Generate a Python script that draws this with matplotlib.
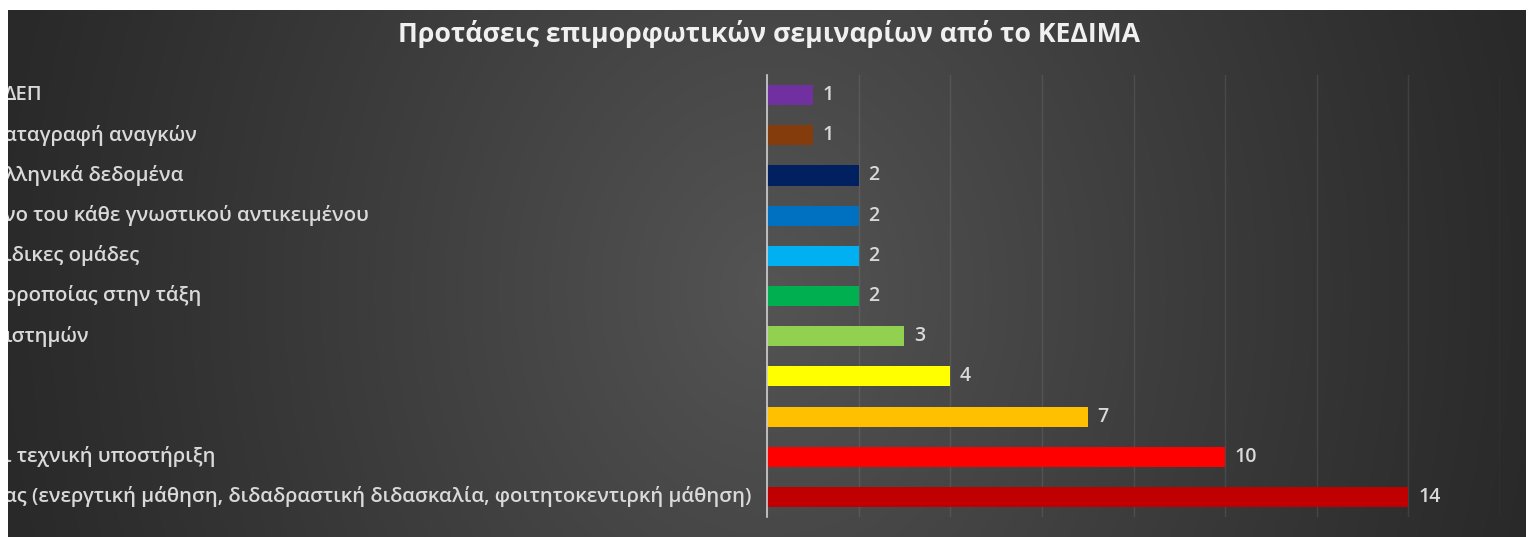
import numpy as np
import matplotlib
matplotlib.use("Agg")
import matplotlib.pyplot as plt
from matplotlib.patches import Rectangle
from matplotlib.transforms import blended_transform_factory

# ---- data -------------------------------------------------------------
title = "Προτάσεις επιμορφωτικών σεμιναρίων από το ΚΕΔΙΜΑ"

categories = [
    "ας (ενεργτική μάθηση, διδαδραστική διδασκαλία, φοιτητοκεντιρκή μάθηση)",
    "ι τεχνική υποστήριξη",
    "",
    "",
    "ιστημών",
    "οροποίας στην τάξη",
    "ιδικες ομάδες",
    "νο του κάθε γνωστικού αντικειμένου",
    "λληνικά δεδομένα",
    "αταγραφή αναγκών",
    "ΔΕΠ",
]
values = [14, 10, 7, 4, 3, 2, 2, 2, 2, 1, 1]
bar_colors = ["#C00000", "#FF0000", "#FFC000", "#FFFF00", "#92D050",
              "#00B050", "#00B0F0", "#0070C0", "#002060", "#843C0C", "#7030A0"]
x_ticks = list(range(0, 17, 2))

# ---- figure -----------------------------------------------------------
W, H = 1532, 537
plt.rcParams["font.family"] = ["Open Sans", "DejaVu Sans"]
fig = plt.figure(figsize=(W / 100, H / 100), dpi=100)

# dark backdrop with a soft lighter centre
bg = fig.add_axes([0, 0, 1, 1], zorder=-5)
yy, xx = np.mgrid[0:H, 0:W]
r = np.sqrt(((xx - 770) / 790.0) ** 2 + ((yy - 290) / 950.0) ** 2)
g = np.clip(1 - r, 0, 1) ** 1.1
lev = (0x29 + (0x54 - 0x29) * g) / 255.0
img = np.dstack([lev, lev, lev])
bg.imshow(img, extent=[0, W, H, 0], aspect="auto", interpolation="bilinear")
bg.set_axis_off()

# plot area
x0, x1 = 767, 1500
y0, y1 = 75, 517
ax = fig.add_axes([x0 / W, 1 - y1 / H, (x1 - x0) / W, (y1 - y0) / H])
ax.set_facecolor("none")

ypos = np.arange(len(values))
ax.barh(ypos, values, height=0.5, color=bar_colors, zorder=3)
ax.set_xlim(0, 16)
ax.set_ylim(-0.5, len(values) - 0.5)
ax.set_xticks(x_ticks)
ax.grid(axis="x", color="white", alpha=0.09, linewidth=1.0, zorder=0)
ax.tick_params(length=0, labelbottom=False, labelleft=False)
for s in ("top", "right", "bottom"):
    ax.spines[s].set_visible(False)
ax.spines["left"].set_color("#d0d0d0")
ax.spines["left"].set_linewidth(1.2)
ax.spines["left"].set_zorder(4)

text_col = "#d9d9d9"
tr = blended_transform_factory(fig.transFigure, ax.transData)
for y, lab in zip(ypos, categories):
    ax.text(4 / W, y, lab, transform=tr, ha="left", va="center",
            fontsize=14.6, fontweight="semibold", color=text_col, clip_on=False)

for y, v in zip(ypos, values):
    ax.annotate(str(v), (v, y), xytext=(7, 0), textcoords="offset points",
                ha="left", va="center", fontsize=14, fontweight="semibold",
                color=text_col)

fig.text(769 / W, 1 - 34 / H, title, ha="center", va="center",
         fontsize=19.2, fontweight="bold", color="#f0f0f0")

# white margins around the panel
for (x, y, w, h) in [(0, 0, 8, H), (0, 0, W, 10), (1526, 0, W - 1526, H)]:
    fig.patches.append(Rectangle((x / W, 1 - (y + h) / H), w / W, h / H,
                                 transform=fig.transFigure, facecolor="white",
                                 edgecolor="none", zorder=20))

fig.savefig("out.png", dpi=100)
